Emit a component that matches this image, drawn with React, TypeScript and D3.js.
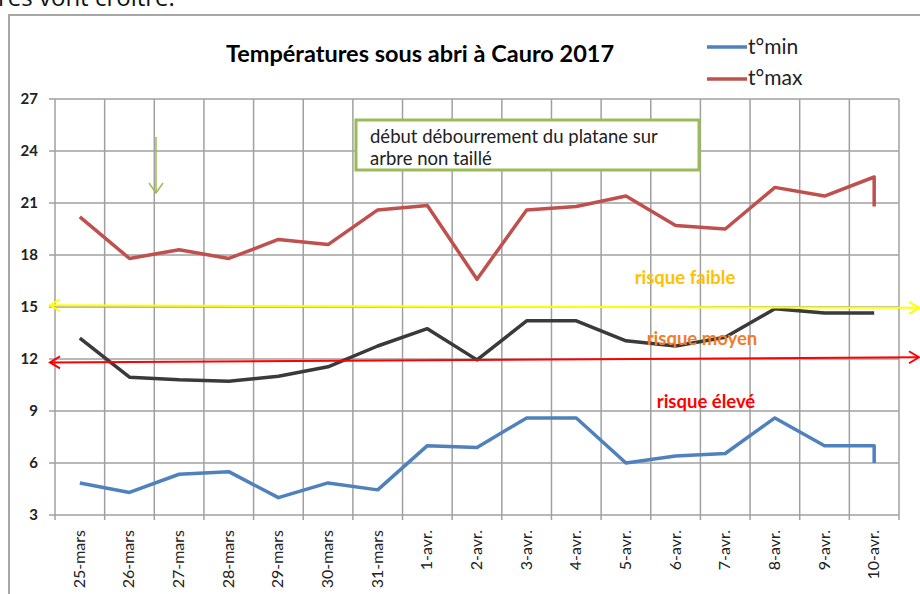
import React from "react";
import * as d3 from "d3";

const categories = [
  "25-mars", "26-mars", "27-mars", "28-mars", "29-mars", "30-mars", "31-mars",
  "1-avr.", "2-avr.", "3-avr.", "4-avr.", "5-avr.", "6-avr.", "7-avr.", "8-avr.", "9-avr.", "10-avr.",
];
const tMin = [4.85, 4.3, 5.35, 5.5, 4.0, 4.85, 4.45, 7.0, 6.9, 8.6, 8.6, 6.0, 6.4, 6.55, 8.6, 7.0, 7.0];
const tMax = [20.2, 17.8, 18.3, 17.8, 18.9, 18.6, 20.6, 20.85, 16.6, 20.6, 20.8, 21.4, 19.7, 19.5, 21.9, 21.4, 22.5];
const tMoy = [13.2, 10.95, 10.8, 10.72, 11.0, 11.55, 12.75, 13.75, 11.95, 14.2, 14.2, 13.05, 12.75, 13.25, 14.9, 14.65, 14.65];
// la courbe retombe verticalement sur le dernier jour
const tMinEnd = 6.0;
const tMaxEnd = 20.8;
const yTicks = [3, 6, 9, 12, 15, 18, 21, 24, 27];

// seuils de risque (gauche -> droite)
const seuilFaible = [15.1, 14.95];
const seuilEleve = [11.8, 12.1];
const risques = ["risque faible", "risque moyen", "risque élevé"];
const risqueValeurs = [16.7, 13.15, 9.5];

const font = "Lato, 'Open Sans', sans-serif";

export default function App() {
  const width = 920;
  const height = 594;
  const x = d3.scaleBand<string>().domain(categories).range([55, 899]);
  const y = d3.scaleLinear().domain([3, 27]).range([515, 99]);
  const cx = (c: string) => (x(c) as number) + x.bandwidth() / 2;
  const last = categories[categories.length - 1];

  const line = d3.line<[number, number]>();
  const path = (vals: number[], end?: number) => {
    const pts: [number, number][] = vals.map((v, i) => [cx(categories[i]), y(v)]);
    if (end !== undefined) pts.push([cx(last), y(end)]);
    return line(pts) as string;
  };

  const x0 = 50;
  const x1 = 919;
  const arrow = (vals: number[], color: string) => {
    const ya = y(vals[0]);
    const yb = y(vals[1]);
    return (
      <g stroke={color} strokeWidth={2} fill="none">
        <line x1={x0} y1={ya} x2={x1} y2={yb} />
        <polyline points={`${x0 + 10},${ya - 6} ${x0},${ya} ${x0 + 10},${ya + 6}`} />
        <polyline points={`${x1 - 10},${yb - 6} ${x1},${yb} ${x1 - 10},${yb + 6}`} />
      </g>
    );
  };

  const risqueCouleurs = ["#FFC000", "#F07C2C", "#FF0000"];
  const risqueX = [685, 702, 706];

  return (
    <svg width={width} height={height} style={{ position: "absolute", left: 0, top: 0, background: "#fff" }} fontFamily={font}>
      <text x={-2} y={6} fontSize={24} fill="#111" fontFamily="'Open Sans', sans-serif">res vont croître.</text>
      <rect x={9} y={15} width={940} height={620} fill="#fff" stroke="#A6A6A6" strokeWidth={2} />

      {/* grille */}
      <g stroke="#A0A0A0" strokeWidth={1.5}>
        {yTicks.map((t) => (
          <line key={t} x1={49} x2={899} y1={y(t)} y2={y(t)} />
        ))}
        {categories.map((c) => (
          <line key={c} x1={x(c)} x2={x(c)} y1={99} y2={520} />
        ))}
        <line x1={899} x2={899} y1={99} y2={520} />
      </g>

      {yTicks.map((t) => (
        <text key={t} x={38} y={y(t) + 5} textAnchor="end" fontSize={15} fontWeight="bold" fill="#222">{t}</text>
      ))}
      {categories.map((c) => (
        <text key={c} transform={`translate(${cx(c) + 5},530) rotate(-90)`} textAnchor="end" fontSize={16} fill="#222">{c}</text>
      ))}

      <text x={420} y={62} textAnchor="middle" fontSize={23.5} fontWeight="bold" fill="#000">Températures sous abri à Cauro 2017</text>

      <g fontSize={21} fill="#222">
        <line x1={707} x2={747} y1={47} y2={47} stroke="#4F81BD" strokeWidth={3.5} />
        <text x={748} y={54}>t°min</text>
        <line x1={707} x2={747} y1={79} y2={79} stroke="#C0504D" strokeWidth={3.5} />
        <text x={748} y={85}>t°max</text>
      </g>

      {/* annotation */}
      <rect x={356} y={120} width={343} height={50} fill="#fff" stroke="#9BBB59" strokeWidth={3} />
      <text x={370} y={143} fontSize={18.5} fill="#222">début débourrement du platane sur</text>
      <text x={370} y={165} fontSize={18.5} fill="#222">arbre non taillé</text>
      <g stroke="#9BBB59" strokeWidth={1.5} fill="none">
        <line x1={156} x2={156} y1={137} y2={193} />
        <polyline points="149,183 156,193 163,183" />
      </g>

      <g fill="none" strokeLinejoin="round" strokeWidth={3.5}>
        <path d={path(tMax, tMaxEnd)} stroke="#C0504D" />
        <path d={path(tMoy)} stroke="#3A3A3A" />
        <path d={path(tMin, tMinEnd)} stroke="#4F81BD" />
      </g>

      {arrow(seuilFaible, "#FFFF00")}
      {arrow(seuilEleve, "#FF0000")}

      {risques.map((r, i) => (
        <text key={r} x={risqueX[i]} y={y(risqueValeurs[i]) + 6} textAnchor="middle" fontSize={18.5} fontWeight="bold" fill={risqueCouleurs[i]}>{r}</text>
      ))}
    </svg>
  );
}
